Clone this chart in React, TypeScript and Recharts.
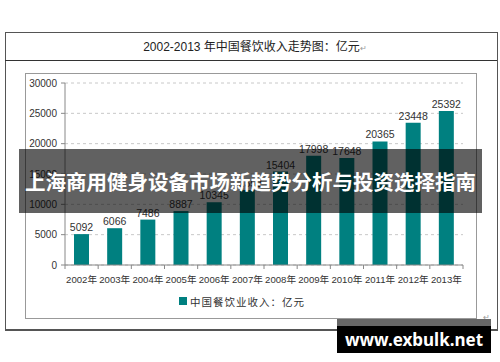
import { BarChart, Bar, XAxis, YAxis, CartesianGrid, Legend, LabelList } from "recharts";

const years = ["2002年", "2003年", "2004年", "2005年", "2006年", "2007年", "2008年", "2009年", "2010年", "2011年", "2012年", "2013年"];
const revenue = [5092, 6066, 7486, 8887, 10345, 12352, 15404, 17998, 17648, 20365, 23448, 25392];
const yTicks = [0, 5000, 10000, 15000, 20000, 25000, 30000];

const seriesName = "中国餐饮业收入：亿元";
const title = "2002-2013 年中国餐饮收入走势图：亿元";
const banner = "上海商用健身设备市场新趋势分析与投资选择指南";

const data = years.map((year, i) => ({ year, value: revenue[i] }));

const FONT = "'Liberation Sans', 'Noto Sans CJK SC', sans-serif";
const TEAL = "#008080";

function YearTick(props: any) {
  const { x, y, payload, index } = props;
  const half = payload && payload.offset ? payload.offset : 16.6;
  return (
    <g>
      {index === 0 && <line x1={x - half} y1={y} x2={x - half} y2={y + 4} stroke="#888" />}
      <line x1={x + half} y1={y} x2={x + half} y2={y + 4} stroke="#888" />
      <text x={x} y={y} dy={18} textAnchor="middle" fontSize={9.6} fill="#333" fontFamily={FONT}>
        {payload.value}
      </text>
    </g>
  );
}

function LegendBox() {
  return (
    <div
      style={{
        height: 28,
        display: "flex",
        alignItems: "center",
        justifyContent: "center",
        fontFamily: FONT,
        fontSize: 10.5,
        letterSpacing: 1,
        color: "#333",
        paddingRight: 4,
        boxSizing: "border-box",
        paddingBottom: 6,
      }}
    >
      <span style={{ width: 8, height: 8, background: TEAL, display: "inline-block", marginRight: 3 }} />
      {seriesName}
    </div>
  );
}

export default function App() {
  return (
    <div style={{ position: "absolute", left: 0, top: 0, width: 500, height: 362, background: "#fff", overflow: "hidden" }}>
      {/* outer frame with title row */}
      <div style={{ position: "absolute", left: 5, top: 32, width: 491, height: 296, border: "1px solid #555", borderBottomWidth: 2 }} />
      <div style={{ position: "absolute", left: 5, top: 60, width: 492, height: 1, background: "#333" }} />
      <div
        style={{
          position: "absolute",
          left: 5,
          top: 37,
          width: 500,
          textAlign: "center",
          fontFamily: FONT,
          fontSize: 12,
          color: "#222",
        }}
      >
        {title}
        <span style={{ fontSize: 8, color: "#999" }}>↵</span>
      </div>
      {/* inner chart frame */}
      <div style={{ position: "absolute", left: 25, top: 73, width: 450, height: 244, border: "1px solid #999" }} />
      <div style={{ position: "absolute", left: 25, top: 73 }}>
        <BarChart width={451} height={245} data={data} margin={{ top: 10, right: 13, left: 0, bottom: 0 }}>
          <CartesianGrid vertical={false} stroke="#c8c8c8" strokeDasharray="3 3" />
          <XAxis
            dataKey="year"
            height={25}
            interval={0}
            tickSize={0}
            tickMargin={0}
            tickLine={false}
            stroke="#888"
            tick={<YearTick />}
          />
          <YAxis
            width={40}
            domain={[0, 30000]}
            ticks={yTicks}
            interval={0}
            tickSize={4}
            tickMargin={4}
            stroke="#888"
            tick={{ fontSize: 10, fill: "#333", fontFamily: FONT }}
          />
          <Legend verticalAlign="bottom" content={<LegendBox />} />
          <Bar dataKey="value" name={seriesName} fill={TEAL} barSize={15} isAnimationActive={false}>
            <LabelList dataKey="value" position="top" offset={3} fontSize={10.5} fill="#333" fontFamily={FONT} />
          </Bar>
        </BarChart>
      </div>
      {/* overlay banner */}
      <div
        style={{
          position: "absolute",
          left: 19,
          top: 149,
          width: 463,
          height: 64,
          background: "rgba(0,0,0,0.62)",
          color: "#fff",
          fontFamily: "'Noto Sans CJK SC', sans-serif",
          fontWeight: 700,
          fontSize: 20.5,
          display: "flex",
          alignItems: "center",
          justifyContent: "center",
          whiteSpace: "nowrap",
        }}
      >
        {banner}
      </div>
      <div style={{ position: "absolute", left: 483, top: 313, fontSize: 8, color: "#999", fontFamily: FONT }}>↵</div>
      {/* watermark */}
      <div
        style={{
          position: "absolute",
          left: 337,
          top: 319,
          width: 154,
          height: 34,
          background: "#000",
          borderTop: "7px solid #666",
          boxSizing: "border-box",
          color: "#fff",
          fontFamily: "'Noto Sans', sans-serif",
          fontWeight: 700,
          fontSize: 17,
          display: "flex",
          alignItems: "center",
          justifyContent: "center",
          lineHeight: 1,
        }}
      >
        www.exbulk.net
      </div>
    </div>
  );
}
